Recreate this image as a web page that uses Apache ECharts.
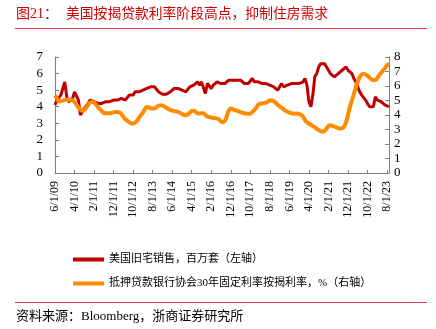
<!DOCTYPE html>
<html><head><meta charset="utf-8">
<script src="https://cdn.jsdelivr.net/npm/echarts@6/dist/echarts.min.js"></script>
<style>html,body{margin:0;padding:0;background:#fff}#c{width:436px;height:329px}</style>
</head><body><div id="c"></div>
<script>
// Monthly categories: Jun 2009 .. Sep 2023
const startYear = 2009, startMonth = 6, monthCount = 172;
const categories = [];
for (let k = 0; k < monthCount; k++) {
  const m = (startMonth - 1 + k) % 12 + 1;
  const y = startYear + Math.floor((startMonth - 1 + k) / 12);
  categories.push(m + '/1/' + String(y % 100).padStart(2, '0'));
}
// US existing home sales, million units (left axis)
const homeSales = [
  4.1, 4.4, 4.3, 4.7, 5.1, 5.5, 4.6,
  4.3, 4.2, 4.5, 4.9, 5.0, 4.4, 3.5, 3.6, 3.9, 3.9, 4.2, 4.4,
  4.3, 4.3, 4.2, 4.2, 4.2, 4.2, 4.2, 4.3, 4.2, 4.3, 4.4, 4.4,
  4.4, 4.4, 4.4, 4.5, 4.5, 4.4, 4.5, 4.7, 4.7, 4.7, 4.9, 4.9,
  4.9, 5.0, 5.0, 5.0, 5.1, 5.1, 5.2, 5.3, 5.2, 5.1, 4.9, 4.9,
  4.75, 4.7, 4.75, 4.8, 4.9, 5.0, 5.1, 5.0, 5.1, 5.2, 5.0, 5.1,
  4.9, 4.9, 5.2, 5.1, 5.3, 5.4, 5.5, 5.3, 5.5, 5.4, 4.8, 5.4,
  5.4, 5.1, 5.3, 5.4, 5.5, 5.5, 5.4, 5.3, 5.4, 5.5, 5.6, 5.5,
  5.6, 5.5, 5.6, 5.5, 5.6, 5.5, 5.4, 5.4, 5.4, 5.5, 5.7, 5.5,
  5.4, 5.5, 5.5, 5.4, 5.4, 5.4, 5.3, 5.3, 5.2, 5.2, 5.3, 5.0,
  5.0, 5.4, 5.2, 5.2, 5.3, 5.3, 5.4, 5.5, 5.4, 5.4, 5.4, 5.5,
  5.5, 5.7, 5.3, 4.3, 4.0, 4.7, 5.8, 6.0, 6.4, 6.6, 6.5, 6.6,
  6.5, 6.2, 6.0, 5.9, 5.8, 5.9, 6.0, 5.9, 6.2, 6.3, 6.4, 6.2,
  6.3, 6.0, 5.7, 5.5, 5.2, 4.9, 4.7, 4.6, 4.4, 4.2, 4.0, 4.0,
  4.0, 4.6, 4.4, 4.3, 4.3, 4.2, 4.1, 4.0, 4.0
];
// MBA 30-year fixed mortgage rate, % (right axis)
const mortgageRate = [
  5.35, 5.15, 4.95, 4.95, 5.0, 5.05, 5.05,
  5.05, 5.06, 5.02, 4.9, 4.72, 4.52, 4.38, 4.3, 4.35, 4.5, 4.7, 4.85,
  4.9, 4.85, 4.72, 4.55, 4.4, 4.25, 4.15, 4.12, 4.12, 4.12, 4.15, 4.18,
  4.2, 4.2, 4.18, 4.05, 3.88, 3.72, 3.6, 3.5, 3.43, 3.41, 3.48, 3.6,
  3.8, 4.0, 4.15, 4.4, 4.55, 4.52, 4.47, 4.44, 4.45, 4.55, 4.64, 4.67,
  4.65, 4.58, 4.5, 4.42, 4.35, 4.3, 4.28, 4.25, 4.22, 4.15, 4.08, 4.0,
  3.98, 4.05, 4.15, 4.27, 4.3, 4.22, 4.12, 4.1, 4.12, 4.12, 4.0, 3.9,
  3.86, 3.82, 3.8, 3.78, 3.75, 3.68, 3.55, 3.5, 3.6, 3.95, 4.3, 4.44,
  4.4, 4.35, 4.3, 4.25, 4.2, 4.15, 4.12, 4.1, 4.08, 4.1, 4.2, 4.35,
  4.5, 4.7, 4.78, 4.8, 4.82, 4.85, 4.92, 5.0, 5.0, 4.95, 4.85, 4.7,
  4.6, 4.5, 4.4, 4.3, 4.22, 4.16, 4.12, 4.1, 4.08, 4.1, 4.08, 4.0,
  3.9, 3.65, 3.5, 3.4, 3.32, 3.25, 3.15, 3.05, 2.97, 2.9, 2.84, 2.9,
  3.05, 3.25, 3.3, 3.25, 3.2, 3.15, 3.1, 3.07, 3.08, 3.2, 3.5, 4.0,
  4.55, 5.0, 5.45, 5.9, 6.3, 6.6, 6.8, 6.85, 6.8, 6.7, 6.58, 6.47,
  6.4, 6.42, 6.55, 6.75, 6.92, 7.08, 7.25, 7.42, 7.55
];
const seriesNames = ['美国旧宅销售，百万套（左轴）', '抵押贷款银行协会30年固定利率按揭利率，%（右轴）'];
const titleLabel = '图21：';
const titleText = '美国按揭贷款利率阶段高点，抑制住房需求';
const sourceText = '资料来源：Bloomberg，浙商证券研究所';

const serif = "'Liberation Serif','Noto Sans CJK SC',serif";
const cjk = "'Liberation Serif','Noto Sans CJK SC',sans-serif";
const axisGray = '#7f7f7f';
const chart = echarts.init(document.getElementById('c'), null, {renderer: 'canvas'});
const yAxisCommon = {
  type: 'value', min: 0, interval: 1,
  axisLine: {show: true, lineStyle: {color: axisGray}},
  axisTick: {show: true, inside: true, length: 4, lineStyle: {color: axisGray}},
  splitLine: {show: false},
  axisLabel: {fontFamily: serif, fontSize: 13, color: '#000'}
};
chart.setOption({
  animation: false,
  backgroundColor: '#fff',
  grid: {left: 55, right: 47, top: 57, bottom: 156},
  xAxis: {
    type: 'category', data: categories, boundaryGap: false,
    axisLine: {lineStyle: {color: axisGray}},
    axisTick: {inside: true, length: 3, interval: 9, lineStyle: {color: axisGray}},
    axisLabel: {interval: 9, rotate: 90, margin: 8, fontFamily: serif, fontSize: 12, color: '#000'}
  },
  yAxis: [
    Object.assign({}, yAxisCommon, {max: 7, position: 'left', axisLabel: Object.assign({}, yAxisCommon.axisLabel, {margin: 12})}),
    Object.assign({}, yAxisCommon, {max: 8, position: 'right', axisLabel: Object.assign({}, yAxisCommon.axisLabel, {margin: 5})})
  ],
  legend: [
    {data: [seriesNames[0]], left: 73, top: 254, padding: 0, icon: 'rect', itemWidth: 31, itemHeight: 4,
     textStyle: {fontFamily: cjk, fontSize: 11, color: '#000'}},
    {data: [seriesNames[1]], left: 73, top: 278, padding: 0, icon: 'rect', itemWidth: 31, itemHeight: 4,
     textStyle: {fontFamily: cjk, fontSize: 11, color: '#000'}}
  ],
  series: [
    {name: seriesNames[0], type: 'line', yAxisIndex: 0, data: homeSales, showSymbol: false,
     lineStyle: {color: '#c00000', width: 3}, itemStyle: {color: '#c00000'}},
    {name: seriesNames[1], type: 'line', yAxisIndex: 1, data: mortgageRate, showSymbol: false, smooth: true,
     lineStyle: {color: '#ff8c00', width: 4}, itemStyle: {color: '#ff8c00'}}
  ],
  graphic: [
    {type: 'text', left: 16, top: 7, style: {text: titleLabel, fontFamily: cjk, fontSize: 14, fill: '#cc0000'}},
    {type: 'text', left: 66, top: 7, style: {text: titleText, fontFamily: cjk, fontSize: 13.8, fill: '#cc0000'}},
    {type: 'line', shape: {x1: 15, y1: 28.5, x2: 427, y2: 28.5}, style: {stroke: '#d94040', lineWidth: 1.2}},
    {type: 'line', shape: {x1: 15, y1: 302.5, x2: 427, y2: 302.5}, style: {stroke: '#d94040', lineWidth: 1.2}},
    {type: 'text', left: 16, top: 310, style: {text: sourceText, fontFamily: cjk, fontSize: 13, fill: '#000'}}
  ]
});
</script></body></html>
